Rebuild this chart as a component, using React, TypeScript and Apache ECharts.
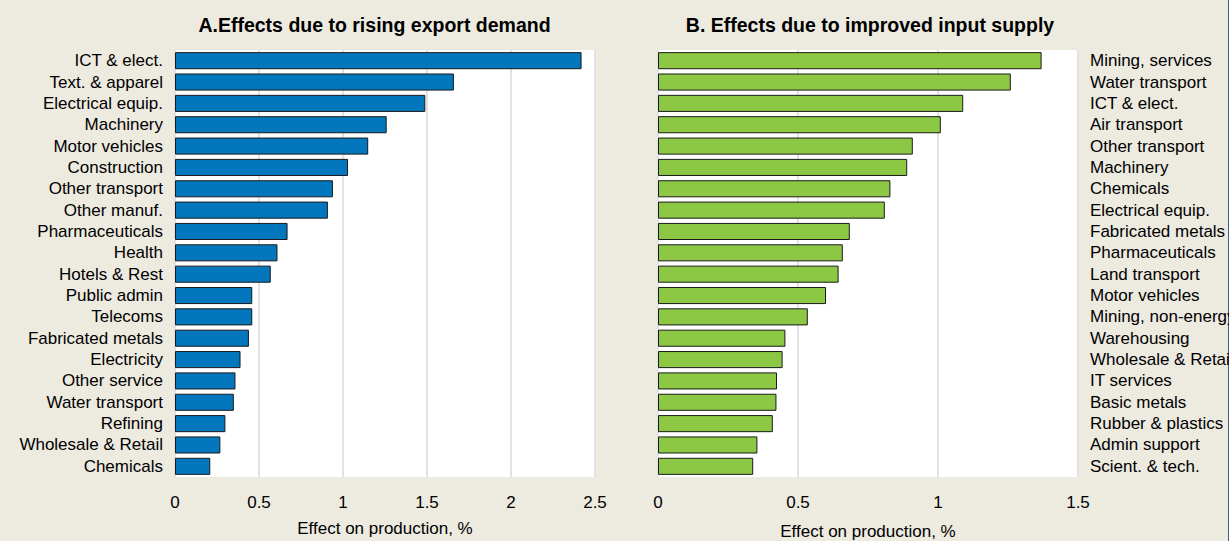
import React, { useEffect, useRef } from "react";
import * as echarts from "echarts";

const categoriesA = [
  "ICT & elect.", "Text. & apparel", "Electrical equip.", "Machinery", "Motor vehicles",
  "Construction", "Other transport", "Other manuf.", "Pharmaceuticals", "Health",
  "Hotels & Rest", "Public admin", "Telecoms", "Fabricated metals", "Electricity",
  "Other service", "Water transport", "Refining", "Wholesale & Retail", "Chemicals",
];
const valuesA = [
  2.42, 1.66, 1.49, 1.26, 1.15, 1.03, 0.94, 0.91, 0.67, 0.61,
  0.57, 0.46, 0.46, 0.44, 0.39, 0.36, 0.35, 0.30, 0.27, 0.21,
];
const categoriesB = [
  "Mining, services", "Water transport", "ICT & elect.", "Air transport", "Other transport",
  "Machinery", "Chemicals", "Electrical equip.", "Fabricated metals", "Pharmaceuticals",
  "Land transport", "Motor vehicles", "Mining, non-energy", "Warehousing", "Wholesale & Retail",
  "IT services", "Basic metals", "Rubber & plastics", "Admin support", "Scient. & tech.",
];
const valuesB = [
  1.37, 1.26, 1.09, 1.01, 0.91, 0.89, 0.83, 0.81, 0.685, 0.66,
  0.645, 0.60, 0.535, 0.455, 0.445, 0.425, 0.423, 0.41, 0.355, 0.34,
];
const titleA = "A.Effects due to rising export demand";
const titleB = "B. Effects due to improved input supply";
const axisName = "Effect on production, %";

const FONT = "'Liberation Sans', Arial, sans-serif";
const FS = 17;

export default function App() {
  const ref = useRef<HTMLDivElement>(null);
  useEffect(() => {
    if (!ref.current) return;
    const chart = echarts.init(ref.current, undefined, { renderer: "svg" });
    const gridBase = {
      top: 50, height: 427, width: 420, show: true, backgroundColor: "#ffffff",
      borderWidth: 0, containLabel: false, outerBoundsMode: "none",
    };
    const xBase = (max: number, gap: number) => ({
      type: "value" as const,
      min: 0,
      max,
      interval: 0.5,
      name: axisName,
      nameLocation: "middle" as const,
      nameGap: gap,
      nameTextStyle: { fontFamily: FONT, fontSize: FS, color: "#000" },
      axisLine: { show: false },
      axisTick: { show: false },
      axisLabel: { fontFamily: FONT, fontSize: FS, color: "#000", margin: 17 },
      splitLine: { show: true, lineStyle: { color: "#e2e2e2", width: 2 } },
    });
    const yBase = {
      type: "category" as const,
      inverse: true,
      axisLine: { show: false },
      axisTick: { show: false },
      splitLine: { show: false },
    };
    chart.setOption({
      animation: false,
      backgroundColor: "#edeae0",
      grid: [
        { ...gridBase, left: 175 },
        { ...gridBase, left: 658 },
      ],
      xAxis: [
        { ...xBase(2.5, 43), gridIndex: 0 },
        { ...xBase(1.5, 46), gridIndex: 1 },
      ],
      yAxis: [
        { ...yBase, gridIndex: 0, data: categoriesA, position: "left", axisLabel: { fontFamily: FONT, fontSize: FS, color: "#000", margin: 12, interval: 0 } },
        { ...yBase, gridIndex: 1, data: categoriesB, position: "right", axisLabel: { fontFamily: FONT, fontSize: FS, color: "#000", margin: 12, interval: 0, align: "left" } },
      ],
      series: [
        {
          type: "bar",
          xAxisIndex: 0,
          yAxisIndex: 0,
          data: valuesA,
          barCategoryGap: "20%",
          itemStyle: { color: "#0277bd", borderColor: "#1a1a1a", borderWidth: 1 },
        },
        {
          type: "bar",
          xAxisIndex: 1,
          yAxisIndex: 1,
          data: valuesB,
          barCategoryGap: "20%",
          itemStyle: { color: "#8cc843", borderColor: "#1a1a1a", borderWidth: 1 },
        },
      ],
      graphic: [
        {
          type: "text",
          x: 374.5,
          y: 24.5,
          style: { text: titleA, fontFamily: FONT, fontSize: 19.5, fontWeight: "bold", fill: "#000", textAlign: "center", textVerticalAlign: "middle" },
        },
        {
          type: "text",
          x: 870,
          y: 24.5,
          style: { text: titleB, fontFamily: FONT, fontSize: 19.5, fontWeight: "bold", fill: "#000", textAlign: "center", textVerticalAlign: "middle" },
        },
        {
          type: "line",
          shape: { x1: 1228.5, y1: 0, x2: 1228.5, y2: 541 },
          style: { stroke: "#4a5a7a", lineWidth: 1 },
        },
      ],
    });
    return () => chart.dispose();
  }, []);
  return <div ref={ref} style={{ position: "fixed", left: 0, top: 0, width: 1229, height: 541 }} />;
}
